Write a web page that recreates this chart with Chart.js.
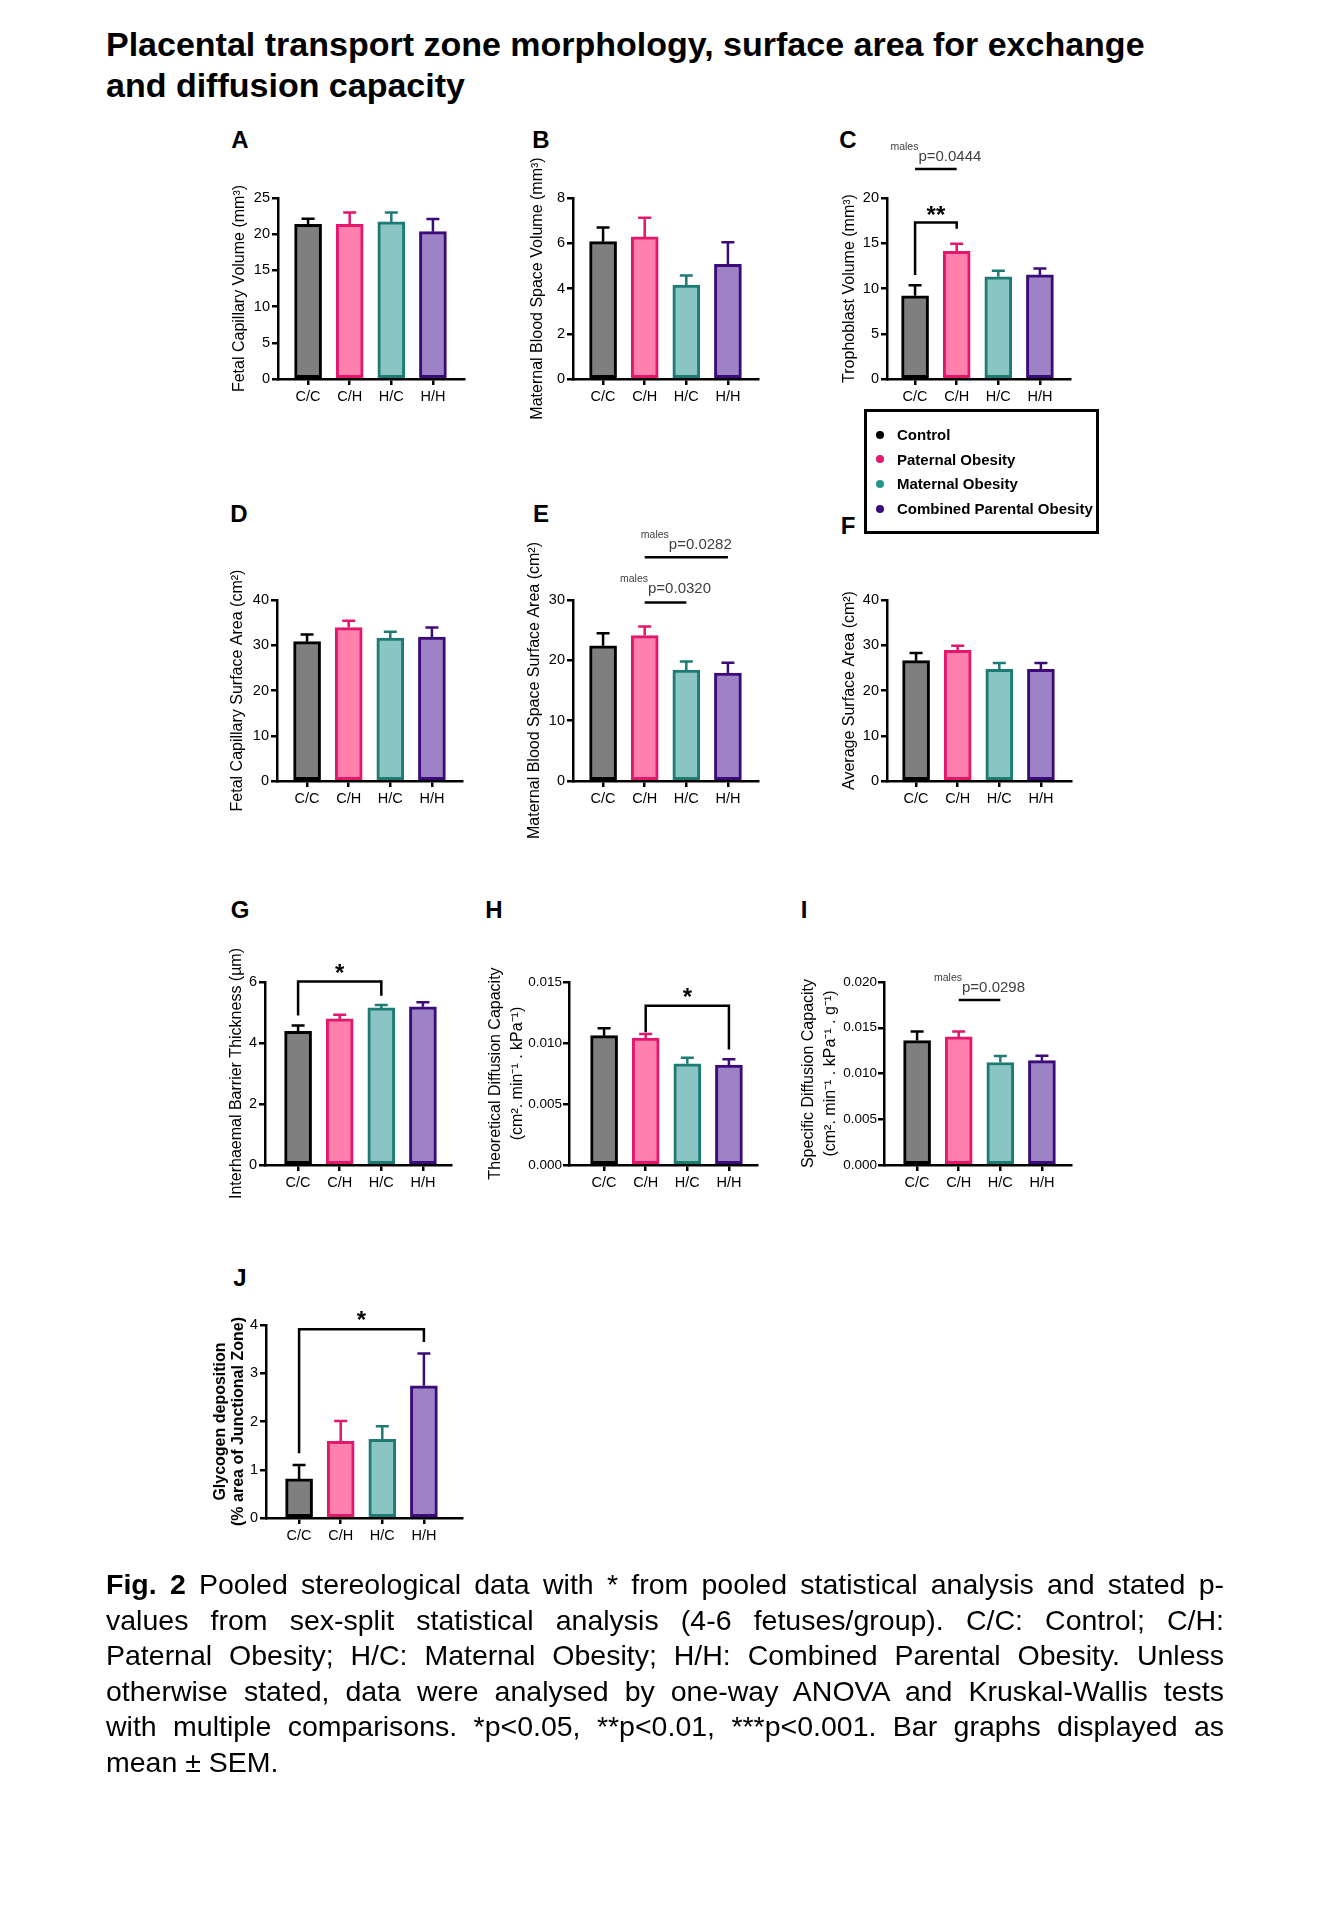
<!DOCTYPE html>
<html>
<head>
<meta charset="utf-8">
<script src="https://cdn.jsdelivr.net/npm/chart.js@4.4.1/dist/chart.umd.min.js"></script>
<style>
  body { margin: 0; background: #fff; }
  #page { position: relative; width: 1329px; height: 1920px; font-family: "Liberation Sans", Arial, sans-serif; color: #000; overflow: hidden; }
  canvas { position: absolute; }
  #title { position: absolute; left: 106px; top: 24px; font-size: 34px; font-weight: bold; line-height: 40.5px; }
  .letter { position: absolute; font-size: 24px; font-weight: bold; line-height: 1; transform: translate(-50%, -50%); }
  #legend { position: absolute; left: 864px; top: 409px; width: 235px; height: 125px; border: 3px solid #000; box-sizing: border-box; }
  .item { position: absolute; left: 0; font-size: 15px; font-weight: bold; line-height: 17px; white-space: nowrap; }
  .item i { position: absolute; left: 9px; top: 4.5px; width: 8px; height: 8px; border-radius: 50%; }
  .item span { position: absolute; left: 30px; top: 0; }
  #caption { position: absolute; left: 106px; top: 1567px; width: 1118px; font-size: 28.5px; line-height: 35.5px; }
  #caption .j { text-align: justify; text-align-last: justify; }
</style>
</head>
<body>
<div id="page">
  <div id="title">Placental transport zone morphology, surface area for exchange<br>and diffusion capacity</div>

  <div class="letter" style="left:240px;top:140px">A</div>
  <div class="letter" style="left:541px;top:140px">B</div>
  <div class="letter" style="left:848px;top:140px">C</div>
  <div class="letter" style="left:239px;top:514px">D</div>
  <div class="letter" style="left:541px;top:514px">E</div>
  <div class="letter" style="left:848px;top:526px">F</div>
  <div class="letter" style="left:240px;top:910px">G</div>
  <div class="letter" style="left:494px;top:910px">H</div>
  <div class="letter" style="left:804px;top:910px">I</div>
  <div class="letter" style="left:240px;top:1278px">J</div>

  <canvas id="cA"></canvas>
  <canvas id="cB"></canvas>
  <canvas id="cC"></canvas>
  <canvas id="cD"></canvas>
  <canvas id="cE"></canvas>
  <canvas id="cF"></canvas>
  <canvas id="cG"></canvas>
  <canvas id="cH"></canvas>
  <canvas id="cI"></canvas>
  <canvas id="cJ"></canvas>

  <div id="legend"></div>

  <div id="caption">
    <div class="j"><b>Fig. 2</b> Pooled stereological data with * from pooled statistical analysis and stated p-</div>
    <div class="j">values from sex-split statistical analysis (4-6 fetuses/group). C/C: Control; C/H:</div>
    <div class="j">Paternal Obesity; H/C: Maternal Obesity; H/H: Combined Parental Obesity. Unless</div>
    <div class="j">otherwise stated, data were analysed by one-way ANOVA and Kruskal-Wallis tests</div>
    <div class="j">with multiple comparisons. *p&lt;0.05, **p&lt;0.01, ***p&lt;0.001. Bar graphs displayed as</div>
    <div>mean ± SEM.</div>
  </div>
</div>

<script>
// groups
var groups = ['C/C', 'C/H', 'H/C', 'H/H'];
var groupNames = ['Control', 'Paternal Obesity', 'Maternal Obesity', 'Combined Parental Obesity'];

// mean and SEM per panel
var fetalCapVolMean = [21.35, 21.35, 21.7, 20.35];
var fetalCapVolSem = [0.8, 1.65, 1.3, 1.75];
var matBloodVolMean = [6.07, 6.28, 4.15, 5.07];
var matBloodVolSem = [0.63, 0.85, 0.42, 0.97];
var trophoVolMean = [9.2, 14.1, 11.3, 11.5];
var trophoVolSem = [1.15, 0.85, 0.65, 0.7];
var fetalCapAreaMean = [30.8, 33.9, 31.6, 31.8];
var fetalCapAreaSem = [1.6, 1.5, 1.4, 2.1];
var matBloodAreaMean = [22.4, 24.1, 18.4, 17.9];
var matBloodAreaSem = [2.1, 1.5, 1.4, 1.7];
var avgAreaMean = [26.6, 28.9, 24.7, 24.7];
var avgAreaSem = [1.7, 1.0, 1.35, 1.4];
var barrierMean = [4.38, 4.79, 5.15, 5.19];
var barrierSem = [0.19, 0.14, 0.1, 0.15];
var theoDiffMean = [0.0106, 0.0104, 0.0083, 0.0082];
var theoDiffSem = [0.0006, 0.00033, 0.0005, 0.00046];
var specDiffMean = [0.0136, 0.0140, 0.0112, 0.0114];
var specDiffSem = [0.001, 0.0006, 0.0007, 0.00055];
var glycogenMean = [0.81, 1.59, 1.63, 2.74];
var glycogenSem = [0.29, 0.42, 0.27, 0.67];

// y tick values
var ticksA = [0, 5, 10, 15, 20, 25];
var ticksB = [0, 2, 4, 6, 8];
var ticksC = [0, 5, 10, 15, 20];
var ticksD = [0, 10, 20, 30, 40];
var ticksE = [0, 10, 20, 30];
var ticksF = [0, 10, 20, 30, 40];
var ticksG = [0, 2, 4, 6];
var ticksH = [0, 0.005, 0.010, 0.015];
var ticksI = [0, 0.005, 0.010, 0.015, 0.020];
var ticksJ = [0, 1, 2, 3, 4];

var fills = ['#7f7f7f', '#ff80ad', '#8ac5c3', '#9d83c5'];
var strokes = ['#000000', '#e3176b', '#1e7b74', '#3b0b7a'];
var dots = ['#000000', '#e8186e', '#23958b', '#3b0b7a'];
var FONT = '"Liberation Sans", Arial, sans-serif';
var SPACING = 41.5;

// significance brackets and sex-split p-value lines
var notes = {
  cC: [
    { kind: 'bracket', from: 0, to: 1, y: 17.3, dropFrom: 11.5, dropTo: 16.6, label: '**', labelY: 18.7 },
    { kind: 'males', from: 0, to: 1, y: 23.2, text: 'p=0.0444', textY: 24.75 }
  ],
  cE: [
    { kind: 'males', from: 1, to: 3, y: 37.1, text: 'p=0.0282', textY: 39.3 },
    { kind: 'males', from: 1, to: 2, y: 29.6, text: 'p=0.0320', textY: 32.1 }
  ],
  cG: [
    { kind: 'bracket', from: 0, to: 2, y: 6.02, dropFrom: 4.9, dropTo: 5.55, label: '*', labelY: 6.45 }
  ],
  cH: [
    { kind: 'bracket', from: 1, to: 3, y: 0.01306, dropFrom: 0.01088, dropTo: 0.00946, label: '*', labelY: 0.0142 }
  ],
  cI: [
    { kind: 'males', from: 1, to: 2, y: 0.01803, text: 'p=0.0298', textY: 0.01949 }
  ],
  cJ: [
    { kind: 'bracket', from: 0, to: 3, y: 3.91, dropFrom: 1.34, dropTo: 3.65, label: '*', labelY: 4.2 }
  ]
};

var errorBars = {
  id: 'errorBars',
  afterDatasetsDraw: function (chart) {
    var ctx = chart.ctx, y = chart.scales.y, ds = chart.data.datasets[0];
    chart.getDatasetMeta(0).data.forEach(function (bar, i) {
      var top = y.getPixelForValue(ds.data[i].y + ds.sem[i]);
      ctx.save();
      ctx.strokeStyle = ds.borderColor[i];
      ctx.lineWidth = 2.5;
      ctx.beginPath();
      ctx.moveTo(bar.x, bar.y);
      ctx.lineTo(bar.x, top);
      ctx.moveTo(bar.x - 6.5, top);
      ctx.lineTo(bar.x + 6.5, top);
      ctx.stroke();
      ctx.restore();
    });
  }
};

var marks = {
  id: 'marks',
  afterDraw: function (chart) {
    var list = notes[chart.canvas.id] || [];
    var ctx = chart.ctx, xs = chart.scales.x, ys = chart.scales.y;
    list.forEach(function (n) {
      var x1 = xs.getPixelForValue(n.from), x2 = xs.getPixelForValue(n.to);
      var yl = ys.getPixelForValue(n.y);
      ctx.save();
      ctx.strokeStyle = '#000';
      ctx.lineWidth = 2.5;
      ctx.beginPath();
      if (n.kind === 'bracket') {
        ctx.moveTo(x1, ys.getPixelForValue(n.dropFrom));
        ctx.lineTo(x1, yl);
        ctx.lineTo(x2, yl);
        ctx.lineTo(x2, ys.getPixelForValue(n.dropTo));
        ctx.stroke();
        ctx.fillStyle = '#000';
        ctx.font = 'bold 24px ' + FONT;
        ctx.textAlign = 'center';
        ctx.textBaseline = 'alphabetic';
        ctx.fillText(n.label, (x1 + x2) / 2, ys.getPixelForValue(n.labelY) + 13);
      } else {
        ctx.moveTo(x1, yl);
        ctx.lineTo(x2, yl);
        ctx.stroke();
        var cy = ys.getPixelForValue(n.textY);
        ctx.fillStyle = '#404040';
        ctx.textBaseline = 'alphabetic';
        ctx.textAlign = 'left';
        ctx.font = '10.5px ' + FONT;
        var w1 = ctx.measureText('males').width;
        ctx.font = '15px ' + FONT;
        var w2 = ctx.measureText(n.text).width;
        var sx = (x1 + x2) / 2 - (w1 + w2) / 2;
        ctx.fillText(n.text, sx + w1, cy + 5.5);
        ctx.font = '10.5px ' + FONT;
        ctx.fillText('males', sx, cy - 5.5);
      }
      ctx.restore();
    });
  }
};

function panel(id, g, mean, sem, ticks, title) {
  var cv = document.getElementById(id);
  var padTop = 70, xH = 32, padRight = 12, padBottom = 70;
  var chartW = SPACING * 3 + g.gapL + g.gapR;
  cv.width = Math.round(g.yW + chartW + padRight);
  cv.height = Math.round(padTop + (g.zeroY - g.topY) + xH + padBottom);
  cv.style.left = (g.axisX - g.yW) + 'px';
  cv.style.top = (g.topY - padTop) + 'px';

  var axisGrid = { display: true, drawOnChartArea: false, drawTicks: true, tickLength: 6, color: '#000', lineWidth: 2.5, offset: false };
  var axisBorder = { display: true, color: '#000', width: 2.5 };

  new Chart(cv, {
    type: 'bar',
    data: {
      datasets: [{
        data: mean.map(function (v, i) { return { x: i, y: v }; }),
        sem: sem,
        backgroundColor: fills,
        borderColor: strokes,
        borderWidth: 3,
        borderSkipped: false,
        barThickness: 27
      }]
    },
    options: {
      responsive: false,
      animation: false,
      layout: { padding: { top: padTop, right: padRight, left: 0, bottom: padBottom } },
      plugins: { legend: { display: false }, tooltip: { enabled: false } },
      scales: {
        x: {
          type: 'linear',
          offset: false,
          min: -g.gapL / SPACING,
          max: 3 + g.gapR / SPACING,
          afterBuildTicks: function (s) { s.ticks = groups.map(function (_, i) { return { value: i }; }); },
          afterFit: function (s) { s.height = xH; },
          ticks: {
            callback: function (v) { return groups[v]; },
            font: { family: FONT, size: 14.5 },
            color: '#000',
            padding: 3,
            maxRotation: 0,
            autoSkip: false
          },
          grid: axisGrid,
          border: axisBorder
        },
        y: {
          type: 'linear',
          min: 0,
          max: ticks[ticks.length - 1],
          afterBuildTicks: function (s) { s.ticks = ticks.map(function (v) { return { value: v }; }); },
          afterFit: function (s) { s.width = g.yW; },
          ticks: {
            callback: function (v) { return g.decimals ? v.toFixed(g.decimals) : v; },
            font: { family: FONT, size: g.decimals ? 13.5 : 14.5 },
            color: '#000',
            padding: g.decimals ? 1 : 2
          },
          grid: axisGrid,
          border: axisBorder,
          title: {
            display: true,
            text: title,
            color: '#000',
            padding: 0,
            font: { family: FONT, size: 16, weight: g.bold ? 'bold' : 'normal', lineHeight: g.lh || 1.2 }
          }
        }
      }
    },
    plugins: [errorBars, marks]
  });
}

panel('cA', { axisX: 278, topY: 198, zeroY: 379, gapL: 30, gapR: 31, yW: 48 },
  fetalCapVolMean, fetalCapVolSem, ticksA, 'Fetal Capillary Volume (mm³)');
panel('cB', { axisX: 573, topY: 198, zeroY: 379, gapL: 30, gapR: 30, yW: 45 },
  matBloodVolMean, matBloodVolSem, ticksB, 'Maternal Blood Space Volume (mm³)');
panel('cC', { axisX: 887, topY: 198, zeroY: 379, gapL: 28, gapR: 30, yW: 47 },
  trophoVolMean, trophoVolSem, ticksC, 'Trophoblast Volume (mm³)');
panel('cD', { axisX: 277, topY: 600, zeroY: 781, gapL: 30, gapR: 30, yW: 49 },
  fetalCapAreaMean, fetalCapAreaSem, ticksD, 'Fetal Capillary Surface Area (cm²)');
panel('cE', { axisX: 573, topY: 600, zeroY: 781, gapL: 30, gapR: 30, yW: 48 },
  matBloodAreaMean, matBloodAreaSem, ticksE, 'Maternal Blood Space Surface Area (cm²)');
panel('cF', { axisX: 887, topY: 600, zeroY: 781, gapL: 29, gapR: 30, yW: 47 },
  avgAreaMean, avgAreaSem, ticksF, 'Average Surface Area (cm²)');
panel('cG', { axisX: 265, topY: 982, zeroY: 1165, gapL: 33, gapR: 28, yW: 38 },
  barrierMean, barrierSem, ticksG, 'Interhaemal Barrier Thickness (µm)');
panel('cH', { axisX: 569, topY: 982, zeroY: 1165, gapL: 35, gapR: 28, yW: 84, lh: 1.375, decimals: 3 },
  theoDiffMean, theoDiffSem, ticksH, ['Theoretical Diffusion Capacity', '(cm². min⁻¹ . kPa⁻¹)']);
panel('cI', { axisX: 884, topY: 982, zeroY: 1165, gapL: 33, gapR: 29, yW: 86, lh: 1.375, decimals: 3 },
  specDiffMean, specDiffSem, ticksI, ['Specific Diffusion Capacity', '(cm². min⁻¹ . kPa⁻¹ . g⁻¹)']);
panel('cJ', { axisX: 266, topY: 1325, zeroY: 1518, gapL: 33, gapR: 38, yW: 54, lh: 1.125, bold: true },
  glycogenMean, glycogenSem, ticksJ, ['Glycogen deposition', '(% area of Junctional Zone)']);

// legend box
var legend = document.getElementById('legend');
groupNames.forEach(function (name, i) {
  var row = document.createElement('div');
  row.className = 'item';
  row.style.top = (14 + i * 24.7) + 'px';
  row.innerHTML = '<i style="background:' + dots[i] + '"></i><span>' + name + '</span>';
  legend.appendChild(row);
});
</script>
</body>
</html>
